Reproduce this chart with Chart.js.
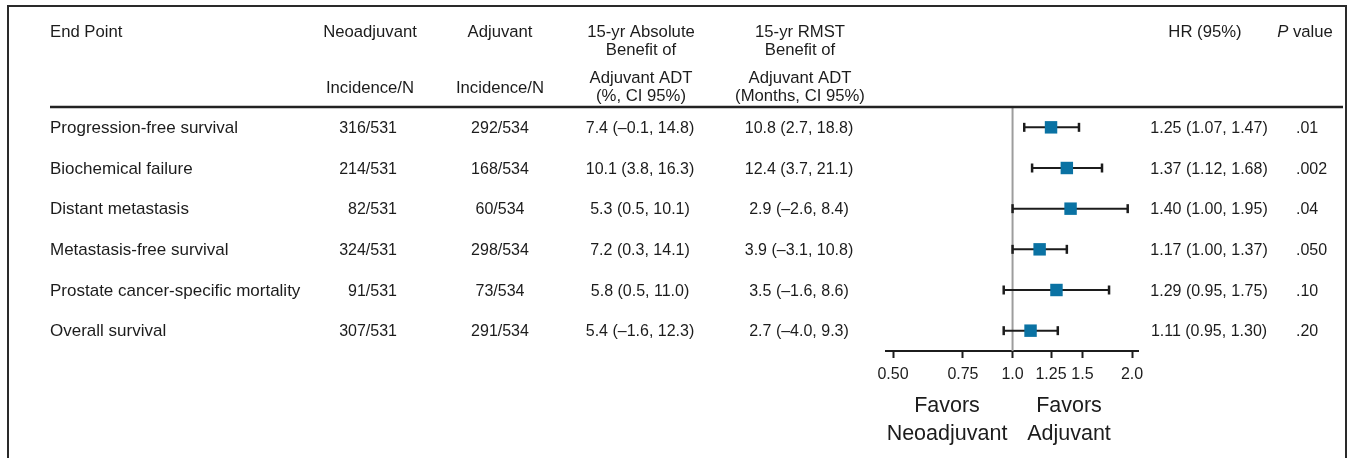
<!DOCTYPE html>
<html>
<head>
<meta charset="utf-8">
<title>Neoadjuvant vs Adjuvant ADT – end points</title>
<script src="https://cdn.jsdelivr.net/npm/chart.js@4.4.1/dist/chart.umd.min.js"></script>
<style>
  html, body { margin: 0; padding: 0; background: #fff; overflow: hidden; }
  #wrap { position: relative; width: 1363px; height: 458px; }
</style>
</head>
<body>
<div id="wrap"><canvas id="forest"></canvas></div>
<script>
// ---- data ----
const endPoints = [
  'Progression-free survival',
  'Biochemical failure',
  'Distant metastasis',
  'Metastasis-free survival',
  'Prostate cancer-specific mortality',
  'Overall survival'
];
const neoIncidence = ['316/531', '214/531', '82/531', '324/531', '91/531', '307/531'];
const adjIncidence = ['292/534', '168/534', '60/534', '298/534', '73/534', '291/534'];
const absBenefit = ['7.4 (\u20130.1, 14.8)', '10.1 (3.8, 16.3)', '5.3 (0.5, 10.1)', '7.2 (0.3, 14.1)', '5.8 (0.5, 11.0)', '5.4 (\u20131.6, 12.3)'];
const rmstBenefit = ['10.8 (2.7, 18.8)', '12.4 (3.7, 21.1)', '2.9 (\u20132.6, 8.4)', '3.9 (\u20133.1, 10.8)', '3.5 (\u20131.6, 8.6)', '2.7 (\u20134.0, 9.3)'];
const hr = [1.25, 1.37, 1.40, 1.17, 1.29, 1.11];
const hrLow = [1.07, 1.12, 1.00, 1.00, 0.95, 0.95];
const hrHigh = [1.47, 1.68, 1.95, 1.37, 1.75, 1.30];
const pValues = ['.01', '.002', '.04', '.050', '.10', '.20'];
const axisTicks = [0.5, 0.75, 1.0, 1.25, 1.5, 2.0];
const axisTickLabels = ['0.50', '0.75', '1.0', '1.25', '1.5', '2.0'];

// ---- styles ----
const FONT = "'Liberation Sans', Arial, Helvetica, sans-serif";
const INK = '#1c1c1c';
const MARKER = '#0a72a3';

// confidence interval segments, one per end point, with vertical caps
const ciDatasets = hr.map((_, i) => ({
  data: [{ x: hrLow[i], y: i }, { x: hrHigh[i], y: i }],
  showLine: true,
  borderColor: INK,
  borderWidth: 2,
  pointStyle: 'line',
  pointRotation: 90,
  pointRadius: 4.5,
  pointBorderWidth: 2.5,
  pointBorderColor: INK,
  pointBackgroundColor: INK,
  order: 1
}));

const datasets = [
  {
    // hazard ratio point estimates
    data: hr.map((v, i) => ({ x: v, y: i })),
    pointStyle: 'rect',
    pointRadius: 8.8,
    backgroundColor: MARKER,
    borderColor: MARKER,
    borderWidth: 0,
    order: 0
  },
  ...ciDatasets,
  {
    // line of no effect at HR = 1
    data: [{ x: 1, y: -0.5 }, { x: 1, y: 5.5 }],
    showLine: true,
    borderColor: '#9d9d9d',
    borderWidth: 2,
    pointRadius: 0,
    order: 2
  }
];

function txt(ctx, s, x, y, align, font) {
  ctx.font = font;
  ctx.textAlign = align;
  ctx.fillText(s, x, y);
}

const tablePlugin = {
  id: 'tableText',
  beforeDraw(chart) {
    const ctx = chart.ctx;
    ctx.save();
    ctx.fillStyle = '#fff';
    ctx.fillRect(0, 0, chart.width, chart.height);
    ctx.strokeStyle = '#2a2a2a';
    ctx.lineWidth = 2;
    ctx.strokeRect(8, 6, 1338, 520);
    ctx.restore();
  },
  afterDraw(chart) {
    const ctx = chart.ctx;
    const y = chart.scales.y;
    const fh = '16.7px ' + FONT;   // headings
    const fn = '16px ' + FONT;     // numeric cells
    const fe = '17px ' + FONT;     // end point names
    ctx.save();
    ctx.fillStyle = INK;
    ctx.textBaseline = 'alphabetic';

    // header rule
    const top = y.getPixelForValue(-0.5);
    ctx.strokeStyle = '#222';
    ctx.lineWidth = 2.5;
    ctx.beginPath();
    ctx.moveTo(50, top);
    ctx.lineTo(1343, top);
    ctx.stroke();

    // column headings
    txt(ctx, 'End Point', 50, 36.5, 'left', fh);
    txt(ctx, 'Neoadjuvant', 370, 36.5, 'center', fh);
    txt(ctx, 'Incidence/N', 370, 93, 'center', fh);
    txt(ctx, 'Adjuvant', 500, 36.5, 'center', fh);
    txt(ctx, 'Incidence/N', 500, 93, 'center', fh);
    txt(ctx, '15-yr Absolute', 641, 36.5, 'center', fh);
    txt(ctx, 'Benefit of', 641, 55, 'center', fh);
    txt(ctx, 'Adjuvant ADT', 641, 82.5, 'center', fh);
    txt(ctx, '(%, CI 95%)', 641, 101, 'center', fh);
    txt(ctx, '15-yr RMST', 800, 36.5, 'center', fh);
    txt(ctx, 'Benefit of', 800, 55, 'center', fh);
    txt(ctx, 'Adjuvant ADT', 800, 82.5, 'center', fh);
    txt(ctx, '(Months, CI 95%)', 800, 101, 'center', fh);
    txt(ctx, 'HR (95%)', 1205, 36.5, 'center', fh);

    // "P value" with italic P
    const fi = 'italic 16.7px ' + FONT;
    ctx.font = fi;
    const wP = ctx.measureText('P').width;
    ctx.font = fh;
    const wV = ctx.measureText(' value').width;
    const pStart = 1305 - (wP + wV) / 2;
    txt(ctx, 'P', pStart, 36.5, 'left', fi);
    txt(ctx, ' value', pStart + wP, 36.5, 'left', fh);

    // body rows
    endPoints.forEach((name, i) => {
      const by = y.getPixelForValue(i) + 5.8;
      txt(ctx, name, 50, by, 'left', fe);
      txt(ctx, neoIncidence[i], 397, by, 'right', fn);
      txt(ctx, adjIncidence[i], 500, by, 'center', fn);
      txt(ctx, absBenefit[i], 640, by, 'center', fn);
      txt(ctx, rmstBenefit[i], 799, by, 'center', fn);
      const hrText = hr[i].toFixed(2) + ' (' + hrLow[i].toFixed(2) + ', ' + hrHigh[i].toFixed(2) + ')';
      txt(ctx, hrText, 1209, by, 'center', fn);
      txt(ctx, pValues[i], 1296, by, 'left', fn);
    });

    // direction labels under the axis
    const fb = '21.5px ' + FONT;
    txt(ctx, 'Favors', 947, 411.5, 'center', fb);
    txt(ctx, 'Neoadjuvant', 947, 440, 'center', fb);
    txt(ctx, 'Favors', 1069, 411.5, 'center', fb);
    txt(ctx, 'Adjuvant', 1069, 440, 'center', fb);
    ctx.restore();
  }
};

new Chart(document.getElementById('forest'), {
  type: 'scatter',
  data: { datasets },
  options: {
    responsive: true,
    maintainAspectRatio: false,
    animation: false,
    events: [],
    layout: { padding: { left: 886, right: 225, top: 107, bottom: 67 } },
    plugins: { legend: { display: false }, tooltip: { enabled: false } },
    scales: {
      x: {
        type: 'logarithmic',
        position: 'bottom',
        min: 0.48,
        max: 2.07,
        afterBuildTicks: (s) => { s.ticks = axisTicks.map(v => ({ value: v })); },
        afterFit: (s) => { s.height = 40; },
        ticks: {
          autoSkip: false,
          maxRotation: 0,
          minRotation: 0,
          padding: 7,
          color: INK,
          font: { family: FONT, size: 16 },
          callback: (v, idx) => axisTickLabels[idx]
        },
        grid: {
          drawOnChartArea: false,
          drawTicks: true,
          tickLength: 7,
          tickWidth: 2,
          tickColor: INK
        },
        border: { display: true, color: INK, width: 2 }
      },
      y: {
        type: 'linear',
        min: -0.5,
        max: 5.5,
        reverse: true,
        display: false
      }
    }
  },
  plugins: [tablePlugin]
});
</script>
</body>
</html>
